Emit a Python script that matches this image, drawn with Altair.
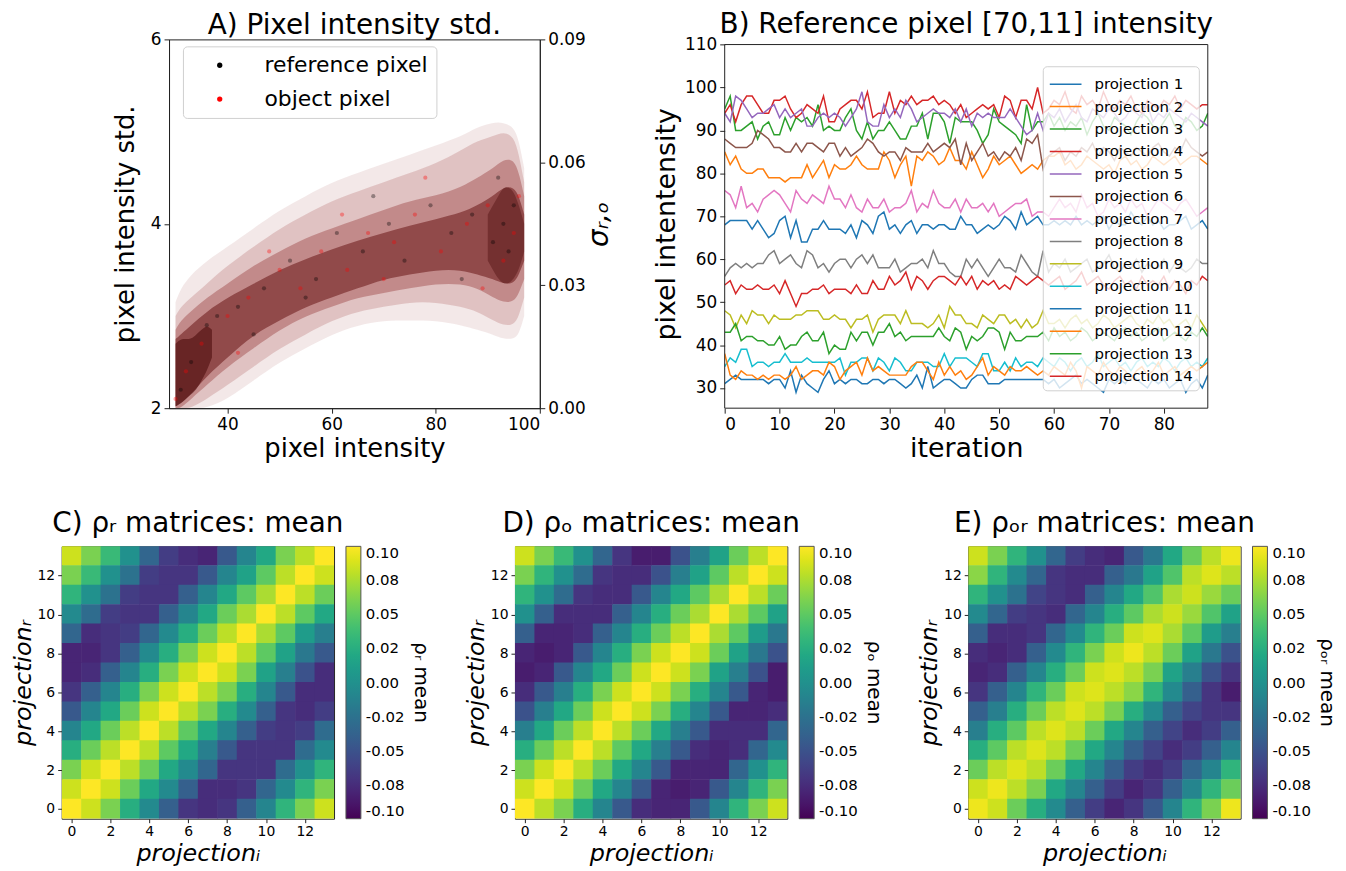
import altair as alt
import pandas as pd

FONT = "DejaVu Sans"

# ---------------- Panel A : pixel intensity std. (density bands of the scatter cloud)
band_x = [30, 31, 33, 36, 40, 45, 50, 55, 60, 65, 70, 75, 80, 85, 88, 91, 93, 95, 96, 97]
b0_lo = [2.0, 2.0, 2.0, 2.0, 2.1, 2.3, 2.5, 2.65, 2.8, 2.9, 2.95, 2.95, 2.95, 2.9, 2.85, 2.8, 2.75, 2.75, 2.8, 3.0]
b0_hi = [3.15, 3.3, 3.45, 3.6, 3.75, 3.95, 4.15, 4.3, 4.45, 4.55, 4.65, 4.75, 4.85, 4.95, 5.05, 5.1, 5.1, 5.05, 4.9, 4.6]
b1_lo = [2.0, 2.0, 2.0, 2.1, 2.25, 2.45, 2.65, 2.8, 2.95, 3.05, 3.1, 3.15, 3.15, 3.1, 3.05, 2.95, 2.9, 2.9, 3.0, 3.2]
b1_hi = [3.0, 3.1, 3.2, 3.35, 3.55, 3.75, 3.95, 4.1, 4.25, 4.35, 4.45, 4.55, 4.65, 4.8, 4.9, 4.95, 5.0, 4.95, 4.75, 4.45]
b2_lo = [2.0, 2.0, 2.1, 2.25, 2.45, 2.65, 2.85, 3.0, 3.1, 3.2, 3.25, 3.3, 3.35, 3.35, 3.3, 3.2, 3.15, 3.15, 3.25, 3.4]
b2_hi = [2.85, 2.95, 3.05, 3.2, 3.35, 3.55, 3.7, 3.85, 3.95, 4.05, 4.15, 4.25, 4.3, 4.4, 4.5, 4.6, 4.7, 4.7, 4.55, 4.3]
b3_lo = [2.02, 2.05, 2.15, 2.35, 2.55, 2.8, 2.95, 3.1, 3.2, 3.3, 3.4, 3.45, 3.5, 3.5, 3.45, 3.4, 3.35, 3.35, 3.45, 3.6]
b3_hi = [2.75, 2.8, 2.9, 3.05, 3.2, 3.35, 3.5, 3.62, 3.72, 3.82, 3.9, 3.98, 4.05, 4.12, 4.2, 4.3, 4.4, 4.4, 4.3, 4.1]

blobL_x = [30, 31, 32, 33, 34, 35, 36, 37]
blobL_lo = [2.02, 2.05, 2.1, 2.15, 2.2, 2.3, 2.4, 2.55]
blobL_hi = [2.7, 2.75, 2.75, 2.75, 2.8, 2.85, 2.9, 2.85]
blobR_x = [90, 91, 92, 93, 94, 95, 96, 97]
blobR_lo = [3.6, 3.5, 3.4, 3.35, 3.35, 3.4, 3.5, 3.7]
blobR_hi = [4.1, 4.2, 4.3, 4.4, 4.4, 4.35, 4.2, 4.0]

ref_x = [33, 36, 42, 47, 52, 57, 61, 66, 71, 74, 79, 83, 87, 91, 93, 94, 95, 92, 45, 68, 85, 31, 38, 55]
ref_y = [2.5, 2.9, 3.1, 3.3, 3.6, 3.4, 3.9, 3.7, 4.0, 3.6, 4.2, 3.9, 4.1, 3.8, 4.0, 3.7, 4.2, 4.5, 2.8, 4.3, 3.4, 2.2, 3.0, 3.2]
obj_x = [32, 35, 40, 44, 50, 54, 58, 63, 67, 72, 76, 81, 86, 90, 93, 95, 96, 62, 48, 78, 89, 30, 42, 70]
obj_y = [2.4, 2.7, 3.0, 3.2, 3.5, 3.3, 3.7, 3.5, 3.9, 3.8, 4.1, 3.7, 4.0, 4.2, 3.6, 3.9, 4.3, 4.1, 3.7, 4.5, 3.3, 2.1, 2.6, 3.4]

a_xticks = [40, 60, 80, 100]
a_yticks = [2, 4, 6]
sigma_ticks = [0.0, 0.03, 0.06, 0.09]

# ---------------- Panel B : reference pixel intensity per projection
p1 = [68,69,69,69,69,67,69,67,65,66, 69,70,65,69,64,64,67,67,69,67, 67,67,66,68,65,69,68,66,70,71,
      67,68,66,68,69,66,68,68,67,68, 68,67,67,70,68,68,66,67,68,67, 68,70,69,67,71,68,69,70,68,68,
      69,68,69,68,70,68,69,68,69,70, 67,69,68,68,71,69,68,70,68,69, 67,68,68,69,70,67,68,69,67]
p2 = [85,82,84,81,80,80,81,81,79,79, 79,78,79,79,79,82,79,81,83,79, 82,81,81,82,84,82,81,81,81,85,
      83,79,82,84,77,84,83,85,84,82, 83,86,83,83,81,85,82,79,81,84, 82,83,84,82,80,81,82,81,83,84,
      84,85,82,83,81,82,84,83,82,81, 82,80,83,84,82,83,81,82,84,83, 82,83,84,82,83,84,84,83,82]
p3 = [95,98,90,90,91,92,88,91,92,89, 89,93,90,93,92,93,91,96,90,91, 90,90,93,95,90,88,92,88,90,90,
      92,90,88,88,91,91,94,88,94,94, 92,87,93,92,92,92,90,87,89,95, 92,91,90,89,87,96,90,92,92,94,
      91,93,90,92,91,93,89,92,94,91, 90,93,92,91,89,92,94,93,91,90, 92,94,91,90,93,92,90,91,94]
p4 = [94,96,92,96,98,98,96,94,94,97, 97,98,95,93,94,96,95,94,98,92, 92,95,96,97,97,95,99,93,94,94,
      99,94,97,96,98,96,97,97,98,96, 97,96,94,96,93,94,95,96,95,96, 93,98,97,93,97,97,95,100,94,95,
      97,96,99,95,94,98,96,97,95,99, 96,95,97,96,98,95,94,97,96,95, 97,96,98,95,97,96,95,96,96]
p5 = [94,92,98,97,95,93,94,94,95,96, 93,95,93,94,95,91,91,93,94,93, 94,93,91,93,95,99,92,91,91,96,
      93,95,93,97,95,92,93,94,95,94, 94,93,95,92,95,91,94,93,94,93, 93,93,95,93,91,89,90,94,90,94,
      93,95,92,94,96,93,92,95,94,93, 95,94,92,93,95,94,93,96,92,94, 93,95,94,93,92,94,93,92,91]
p6 = [88,87,86,86,86,87,90,89,88,86, 86,85,85,87,85,87,87,86,85,87, 87,84,86,84,85,86,88,87,85,84,
      85,85,83,86,85,85,85,87,85,86, 87,86,88,82,87,83,85,87,84,85, 83,85,84,86,83,88,87,89,81,84,
      85,86,83,85,84,86,85,87,84,86, 85,83,86,85,84,86,85,84,86,87, 85,84,86,85,88,86,85,84,85]
p7 = [76,75,72,77,72,73,71,74,75,76, 75,73,71,76,74,73,75,74,73,77, 74,74,72,75,72,71,74,72,72,74,
      71,72,72,73,76,71,73,72,76,73, 72,72,74,71,74,72,72,73,71,73, 70,71,72,73,73,74,70,71,71,70,
      72,74,72,73,71,75,72,73,70,71, 74,72,73,71,74,72,73,70,72,74, 73,72,71,73,74,72,70,71,72]
p8 = [56,58,59,58,59,58,59,59,61,62, 59,60,61,59,58,62,61,58,59,57, 59,60,60,58,60,61,59,61,58,58,
      58,60,57,58,59,59,60,58,62,59, 59,57,56,56,60,58,60,58,56,58, 60,58,58,57,61,59,57,56,62,57,
      59,58,60,57,58,59,60,57,58,59, 61,58,57,59,58,60,57,59,58,58, 60,57,59,58,57,58,60,59,59]
p9 = [48,47,44,47,45,48,47,47,45,47, 46,46,46,47,47,48,48,48,46,46, 47,46,46,44,46,46,47,43,46,47,
      47,47,45,48,45,45,45,44,45,47, 44,49,47,47,45,45,44,47,46,45, 47,47,45,46,44,46,44,45,48,45,
      45,46,44,46,47,45,46,44,45,47, 46,44,45,46,47,45,44,46,45,47, 45,46,44,45,46,44,47,45,43]
p10 = [35,37,36,39,39,35,36,36,35,36, 36,38,36,36,36,37,36,36,36,36, 36,37,33,36,36,37,37,34,37,36,
       34,37,36,34,34,36,36,36,35,35, 38,35,37,37,37,36,35,38,38,34, 34,36,34,37,35,36,36,35,37,36,
       35,37,36,34,36,37,35,36,38,35, 36,37,35,36,34,36,37,35,36,35, 37,36,34,36,37,35,36,35,37]
p11 = [31,32,33,32,32,32,32,32,31,32, 32,30,34,29,33,31,30,29,32,34, 31,32,31,32,32,31,31,32,32,31,
       32,32,31,30,31,33,30,35,30,31, 32,32,31,30,30,32,33,33,31,31, 31,32,32,32,32,32,32,32,32,31,
       32,30,31,32,33,31,32,31,30,29, 32,31,32,31,33,32,31,30,32,31, 32,30,31,32,29,31,32,30,33]
p12 = [38,33,32,34,33,33,32,33,32,33, 33,32,33,35,32,33,34,34,33,36, 35,32,34,35,36,33,37,34,35,34,
       33,33,33,33,35,36,36,34,32,36, 33,35,33,34,32,33,35,37,33,35, 34,33,35,34,34,35,34,33,34,33,
       35,34,33,36,34,30,35,34,33,36, 34,33,35,34,32,34,35,33,34,36, 33,34,35,33,34,35,34,35,36]
p13 = [43,43,45,41,42,42,41,41,40,40, 42,39,40,40,42,43,41,41,43,38, 40,39,39,43,41,43,43,40,43,43,
       45,42,43,41,42,42,42,42,42,44, 42,41,44,43,39,42,41,42,44,44, 43,39,43,41,41,42,42,42,43,41,
       44,42,43,41,42,44,43,41,42,43, 42,41,43,44,42,43,41,42,43,44, 41,42,43,42,41,43,42,44,42]
p14 = [54,55,52,54,53,53,54,53,53,54, 52,55,52,49,52,52,53,53,54,52, 53,53,53,52,54,52,52,55,53,53,
       56,54,55,57,53,56,55,53,55,56, 56,55,54,56,54,56,53,55,54,55, 53,54,53,56,55,54,55,56,55,54,
       55,56,53,54,55,57,54,55,56,54, 53,55,56,54,55,53,56,54,55,54, 56,53,55,54,52,55,54,56,55]
series = [p1, p2, p3, p4, p5, p6, p7, p8, p9, p10, p11, p12, p13, p14]
proj_names = ["projection %d" % (k + 1) for k in range(14)]
tab10 = ["#1f77b4", "#ff7f0e", "#2ca02c", "#d62728", "#9467bd", "#8c564b", "#e377c2",
         "#7f7f7f", "#bcbd22", "#17becf", "#1f77b4", "#ff7f0e", "#2ca02c", "#d62728"]
b_xticks = [0, 10, 20, 30, 40, 50, 60, 70, 80]
b_yticks = [30, 40, 50, 60, 70, 80, 90, 100, 110]

# ---------------- Panels C, D, E : mean correlation matrices (rows listed top r=13 -> bottom r=0)
rho_r = [
    [0.085, 0.06, 0.035, 0.0, -0.035, -0.065, -0.075, -0.08, -0.045, -0.01, 0.02, 0.06, 0.08, 0.10],
    [0.06, 0.035, 0.0, -0.025, -0.065, -0.07, -0.07, -0.045, -0.01, 0.015, 0.05, 0.08, 0.10, 0.085],
    [0.03, 0.0, -0.025, -0.065, -0.07, -0.07, -0.04, -0.01, 0.02, 0.05, 0.075, 0.10, 0.08, 0.055],
    [-0.005, -0.03, -0.065, -0.07, -0.07, -0.04, -0.01, 0.02, 0.055, 0.075, 0.10, 0.08, 0.05, 0.02],
    [-0.035, -0.075, -0.07, -0.065, -0.035, -0.005, 0.025, 0.055, 0.08, 0.10, 0.075, 0.05, 0.01, -0.015],
    [-0.08, -0.08, -0.07, -0.04, -0.005, 0.025, 0.06, 0.085, 0.10, 0.08, 0.05, 0.015, -0.02, -0.045],
    [-0.08, -0.075, -0.04, -0.01, 0.025, 0.06, 0.085, 0.10, 0.085, 0.06, 0.015, -0.015, -0.05, -0.075],
    [-0.07, -0.04, -0.01, 0.025, 0.06, 0.085, 0.10, 0.08, 0.06, 0.025, -0.01, -0.045, -0.075, -0.075],
    [-0.045, -0.01, 0.02, 0.055, 0.085, 0.10, 0.08, 0.06, 0.025, -0.005, -0.04, -0.07, -0.075, -0.065],
    [-0.01, 0.02, 0.055, 0.08, 0.10, 0.08, 0.05, 0.02, -0.01, -0.04, -0.065, -0.07, -0.065, -0.03],
    [0.025, 0.055, 0.08, 0.10, 0.08, 0.05, 0.02, -0.015, -0.045, -0.07, -0.07, -0.07, -0.03, -0.005],
    [0.06, 0.085, 0.10, 0.08, 0.055, 0.02, -0.005, -0.035, -0.07, -0.07, -0.07, -0.03, 0.0, 0.03],
    [0.085, 0.10, 0.085, 0.055, 0.02, -0.005, -0.04, -0.075, -0.075, -0.07, -0.035, -0.005, 0.03, 0.06],
    [0.10, 0.085, 0.06, 0.025, -0.005, -0.04, -0.07, -0.075, -0.07, -0.04, -0.01, 0.03, 0.06, 0.085],
]
rho_o = [
    [0.085, 0.06, 0.035, 0.0, -0.035, -0.07, -0.085, -0.085, -0.05, -0.015, 0.015, 0.055, 0.08, 0.10],
    [0.06, 0.03, 0.0, -0.03, -0.07, -0.075, -0.075, -0.05, -0.015, 0.015, 0.05, 0.08, 0.10, 0.085],
    [0.03, 0.0, -0.03, -0.07, -0.075, -0.075, -0.045, -0.01, 0.02, 0.05, 0.075, 0.10, 0.08, 0.055],
    [0.0, -0.04, -0.075, -0.075, -0.075, -0.04, -0.01, 0.025, 0.055, 0.075, 0.10, 0.075, 0.05, 0.015],
    [-0.04, -0.08, -0.08, -0.075, -0.04, -0.01, 0.025, 0.055, 0.08, 0.10, 0.075, 0.05, 0.01, -0.02],
    [-0.08, -0.085, -0.08, -0.045, -0.01, 0.025, 0.06, 0.085, 0.10, 0.085, 0.055, 0.015, -0.02, -0.05],
    [-0.085, -0.08, -0.045, -0.01, 0.02, 0.055, 0.085, 0.10, 0.085, 0.06, 0.015, -0.015, -0.05, -0.085],
    [-0.075, -0.045, -0.015, 0.025, 0.06, 0.085, 0.10, 0.085, 0.06, 0.025, -0.01, -0.045, -0.08, -0.085],
    [-0.05, -0.015, 0.02, 0.055, 0.085, 0.10, 0.085, 0.06, 0.025, -0.01, -0.045, -0.08, -0.08, -0.075],
    [-0.015, 0.02, 0.055, 0.08, 0.10, 0.08, 0.055, 0.02, -0.015, -0.045, -0.075, -0.075, -0.075, -0.035],
    [0.025, 0.055, 0.08, 0.10, 0.08, 0.05, 0.02, -0.015, -0.045, -0.075, -0.08, -0.075, -0.035, -0.005],
    [0.06, 0.085, 0.10, 0.08, 0.055, 0.02, -0.01, -0.045, -0.08, -0.08, -0.08, -0.035, 0.0, 0.03],
    [0.085, 0.10, 0.085, 0.055, 0.02, -0.01, -0.045, -0.08, -0.085, -0.08, -0.045, -0.01, 0.03, 0.06],
    [0.10, 0.08, 0.06, 0.025, -0.01, -0.045, -0.075, -0.08, -0.08, -0.045, -0.01, 0.03, 0.06, 0.085],
]
rho_or = [
    [0.085, 0.06, 0.03, 0.0, -0.035, -0.065, -0.075, -0.08, -0.045, -0.02, 0.02, 0.055, 0.08, 0.095],
    [0.065, 0.03, -0.005, -0.035, -0.07, -0.075, -0.075, -0.04, -0.02, 0.015, 0.045, 0.08, 0.09, 0.08],
    [0.03, 0.0, -0.025, -0.06, -0.07, -0.075, -0.04, -0.01, 0.02, 0.045, 0.075, 0.085, 0.07, 0.055],
    [-0.005, -0.035, -0.065, -0.07, -0.075, -0.035, -0.01, 0.025, 0.05, 0.075, 0.085, 0.07, 0.045, 0.015],
    [-0.04, -0.075, -0.075, -0.07, -0.035, -0.005, 0.03, 0.055, 0.085, 0.09, 0.075, 0.05, 0.01, -0.015],
    [-0.075, -0.08, -0.075, -0.04, -0.005, 0.03, 0.06, 0.085, 0.095, 0.08, 0.055, 0.015, -0.02, -0.05],
    [-0.08, -0.075, -0.04, -0.01, 0.025, 0.055, 0.085, 0.09, 0.08, 0.06, 0.015, -0.015, -0.05, -0.07],
    [-0.07, -0.04, -0.01, 0.03, 0.055, 0.085, 0.09, 0.08, 0.065, 0.03, -0.005, -0.04, -0.07, -0.085],
    [-0.04, -0.015, 0.025, 0.055, 0.08, 0.09, 0.08, 0.06, 0.025, -0.005, -0.04, -0.06, -0.07, -0.07],
    [-0.015, 0.025, 0.05, 0.08, 0.09, 0.08, 0.055, 0.02, -0.01, -0.04, -0.06, -0.075, -0.065, -0.04],
    [0.025, 0.05, 0.08, 0.09, 0.08, 0.055, 0.02, -0.01, -0.04, -0.06, -0.075, -0.065, -0.04, -0.01],
    [0.055, 0.08, 0.09, 0.08, 0.055, 0.02, -0.01, -0.04, -0.065, -0.075, -0.065, -0.035, -0.01, 0.03],
    [0.085, 0.095, 0.08, 0.06, 0.02, -0.01, -0.04, -0.065, -0.08, -0.07, -0.04, -0.01, 0.03, 0.055],
    [0.095, 0.085, 0.055, 0.025, -0.005, -0.04, -0.065, -0.08, -0.07, -0.045, -0.01, 0.03, 0.06, 0.095],
]
mat_ticks = [0, 2, 4, 6, 8, 10, 12]
cb_ticks = [-0.1, -0.075, -0.05, -0.025, 0.0, 0.025, 0.05, 0.075, 0.1]
cb_labels = ["-0.10", "-0.08", "-0.05", "-0.02", "0.00", "0.02", "0.05", "0.08", "0.10"]

# =====================================================================
# Panel A
xA_scale = alt.Scale(domain=[28.75, 100], nice=False, zero=False)
yA_scale = alt.Scale(domain=[2, 6], nice=False, zero=False)
xA_axis = alt.Axis(values=a_xticks, title="pixel intensity", titleFontSize=26, labelFontSize=17,
                   tickSize=5, labelPadding=3, titlePadding=4, grid=False)
yA_axis = alt.Axis(values=a_yticks, title="pixel intensity std.", titleFontSize=26, labelFontSize=17,
                   tickSize=5, labelPadding=3, titlePadding=12, grid=False)


def a_band(xs, lo, hi, color, op):
    df = pd.DataFrame({"x": xs, "lo": lo, "hi": hi})
    return alt.Chart(df).mark_area(color=color, opacity=op, interpolate="basis", clip=True).encode(
        x=alt.X("x:Q", scale=xA_scale, axis=xA_axis),
        y=alt.Y("lo:Q", scale=yA_scale, axis=yA_axis),
        y2="hi:Q",
    )


pts_df = pd.DataFrame({
    "x": ref_x + obj_x,
    "y": ref_y + obj_y,
    "kind": ["reference pixel"] * len(ref_x) + ["object pixel"] * len(obj_x),
})
a_pts = alt.Chart(pts_df).mark_circle(size=18, opacity=0.35, clip=True).encode(
    x=alt.X("x:Q", scale=xA_scale, axis=xA_axis),
    y=alt.Y("y:Q", scale=yA_scale, axis=yA_axis),
    color=alt.Color("kind:N",
                    scale=alt.Scale(domain=["reference pixel", "object pixel"], range=["black", "red"]),
                    sort=["reference pixel", "object pixel"],
                    legend=alt.Legend(title=None, orient="none", legendX=14, legendY=7,
                                      labelFontSize=22, labelLimit=400, symbolType="circle",
                                      symbolSize=28, symbolOpacity=1, symbolOffset=18,
                                      labelOffset=34, padding=8, rowPadding=12,
                                      strokeColor="#d0d0d0", fillColor="white", cornerRadius=4)),
)

left_layers = alt.layer(
    a_band(band_x, b0_lo, b0_hi, "#c89898", 0.22),
    a_band(band_x, b1_lo, b1_hi, "#b06060", 0.28),
    a_band(band_x, b2_lo, b2_hi, "#903030", 0.38),
    a_band(band_x, b3_lo, b3_hi, "#600a0a", 0.5),
    a_band(blobL_x, blobL_lo, blobL_hi, "#400000", 0.5),
    a_band(blobR_x, blobR_lo, blobR_hi, "#400000", 0.35),
    a_pts,
)
sig_df = pd.DataFrame({"x": [30, 30], "s": [sigma_ticks[0], sigma_ticks[-1]]})
sig_layer = alt.Chart(sig_df).mark_point(opacity=0).encode(
    x=alt.X("x:Q", scale=xA_scale, axis=xA_axis),
    y=alt.Y("s:Q", scale=alt.Scale(domain=[0, 0.09], nice=False, zero=False),
            axis=alt.Axis(orient="right", values=sigma_ticks, format=".2f", title="σᵣ,ₒ",
                          titleFontSize=28, titleFontStyle="italic", titleAngle=270,
                          labelFontSize=17, tickSize=5, labelPadding=3, titlePadding=28, grid=False)),
)
panel_a = alt.layer(left_layers, sig_layer).resolve_scale(y="independent").properties(
    width=373, height=371,
    title=alt.Title("A) Pixel intensity std.", fontSize=28, offset=-10),
)

# =====================================================================
# Panel B
rows = []
for name, vals in zip(proj_names, series):
    for it, v in enumerate(vals):
        rows.append({"it": it, "val": v, "proj": name})
b_df = pd.DataFrame(rows)
xB_scale = alt.Scale(domain=[0, 88], nice=False, zero=False)
yB_scale = alt.Scale(domain=[25.3, 111.2], nice=False, zero=False)
xB_axis = alt.Axis(values=b_xticks, title="iteration", titleFontSize=27, labelFontSize=17,
                   tickSize=5, labelPadding=3, titlePadding=4, domain=False, grid=False)
yB_axis = alt.Axis(values=b_yticks, title="pixel intentensity", titleFontSize=27, labelFontSize=17,
                   tickSize=5, labelPadding=3, titlePadding=4, domain=False, grid=False)
b_lines = alt.Chart(b_df).mark_line(strokeWidth=1.5, clip=True).encode(
    x=alt.X("it:Q", scale=xB_scale, axis=xB_axis),
    y=alt.Y("val:Q", scale=yB_scale, axis=yB_axis),
    color=alt.Color("proj:N", scale=alt.Scale(domain=proj_names, range=tab10), sort=proj_names,
                    legend=alt.Legend(title=None, orient="none", legendX=320, legendY=27,
                                      labelFontSize=15, symbolType="M-1.45,0H1.45", symbolSize=484,
                                      symbolStrokeWidth=1.5, symbolOffset=5, labelOffset=17,
                                      padding=6, rowPadding=2.6, strokeColor="#d0d0d0",
                                      fillColor="rgba(255,255,255,0.8)", cornerRadius=4)),
)
frame_df = pd.DataFrame({"x0": [b_xticks[0]], "x1": [88], "y0": [25.3], "y1": [b_yticks[-1]]})
b_frame = alt.Chart(frame_df).mark_rect(filled=False, stroke="#222", strokeWidth=1).encode(
    x=alt.X("x0:Q", scale=xB_scale, axis=xB_axis),
    x2="x1:Q",
    y=alt.Y("y0:Q", scale=yB_scale, axis=yB_axis),
    y2="y1:Q",
)
panel_b = alt.layer(b_lines, b_frame).properties(
    width=486, height=371,
    title=alt.Title("B) Reference pixel [70,11] intensity", fontSize=28, offset=-3),
    view=alt.ViewBackground(strokeOpacity=0),
)

# =====================================================================
# Panels C, D, E
label_expr = "[" + ",".join("'%s'" % s for s in cb_labels) + "][round((datum.value + 0.1) / 0.025)]"
n_mat = len(rho_r)


def heat(mat, title, cb_title):
    recs = []
    for k, row in enumerate(mat):
        for i, v in enumerate(row):
            recs.append({"i": i, "r": len(mat) - 1 - k, "v": v})
    df = pd.DataFrame(recs)
    cscale = alt.Scale(scheme="viridis", domain=[-0.1, 0.1], clamp=True)
    xs = alt.Scale(domain=[-0.5, n_mat - 0.5], nice=False, zero=False)
    return alt.Chart(df).transform_calculate(
        x0="datum.i - 0.5", x1="datum.i + 0.53", y0="datum.r - 0.5", y1="datum.r + 0.53"
    ).mark_rect(clip=True).encode(
        x=alt.X("x0:Q", scale=xs,
                axis=alt.Axis(values=mat_ticks, labelAngle=0, title="projectionᵢ",
                              titleFontSize=24, titleFontStyle="italic", labelFontSize=14,
                              tickSize=4, labelPadding=2, titlePadding=3, domain=False, grid=False)),
        x2="x1:Q",
        y=alt.Y("y0:Q", scale=xs,
                axis=alt.Axis(values=mat_ticks, title="projectionᵣ", titleFontSize=24,
                              titleFontStyle="italic", labelFontSize=14, tickSize=4,
                              labelPadding=3, titlePadding=2, domain=False, grid=False)),
        y2="y1:Q",
        color=alt.Color("v:Q", scale=cscale,
                        legend=alt.Legend(title=cb_title, titleOrient="right", titleFontSize=20,
                                          titleAnchor="middle", titlePadding=6,
                                          gradientLength=274, gradientThickness=15, offset=12,
                                          labelFontSize=15, values=cb_ticks, labelExpr=label_expr,
                                          gradientStrokeColor="#555", gradientStrokeWidth=1,
                                          direction="vertical", orient="right", labelOffset=5)),
    ).properties(width=274, height=274, title=alt.Title(title, fontSize=28, offset=8))


panel_c = heat(rho_r, "C) ρᵣ matrices: mean", "ρᵣ mean")
panel_d = heat(rho_o, "D) ρₒ matrices: mean", "ρₒ mean")
panel_e = heat(rho_or, "E) ρₒᵣ matrices: mean", "ρₒᵣ mean")

spacer = alt.Chart(pd.DataFrame({"a": [0]})).mark_point(opacity=0).encode(
    x=alt.value(0), y=alt.value(0)
).properties(width=10, height=10, view=alt.ViewBackground(strokeOpacity=0))

ab_row = alt.hconcat(panel_a, panel_b, spacing=38).resolve_scale(
    color="independent").resolve_legend(color="independent")
top_row = alt.hconcat(spacer, ab_row, spacing=40)
bottom_row = alt.hconcat(panel_c, panel_d, panel_e, spacing=32).resolve_scale(
    color="independent").resolve_legend(color="independent")

chart = alt.vconcat(top_row, bottom_row, spacing=47).properties(
    padding={"top": 0, "left": 2, "right": 0, "bottom": 0}
).configure_view(
    stroke="#222", strokeWidth=1
).configure_axis(
    labelFont=FONT, titleFont=FONT, labelColor="black", titleColor="black",
    domainColor="#222", tickColor="#222", titleFontWeight="normal", grid=False
).configure_title(
    font=FONT, fontWeight="normal", color="black", anchor="middle"
).configure_legend(
    labelFont=FONT, titleFont=FONT, labelColor="black", titleColor="black", titleFontWeight="normal"
)

chart.save("out.html", embed_options={"renderer": "svg", "actions": False})
